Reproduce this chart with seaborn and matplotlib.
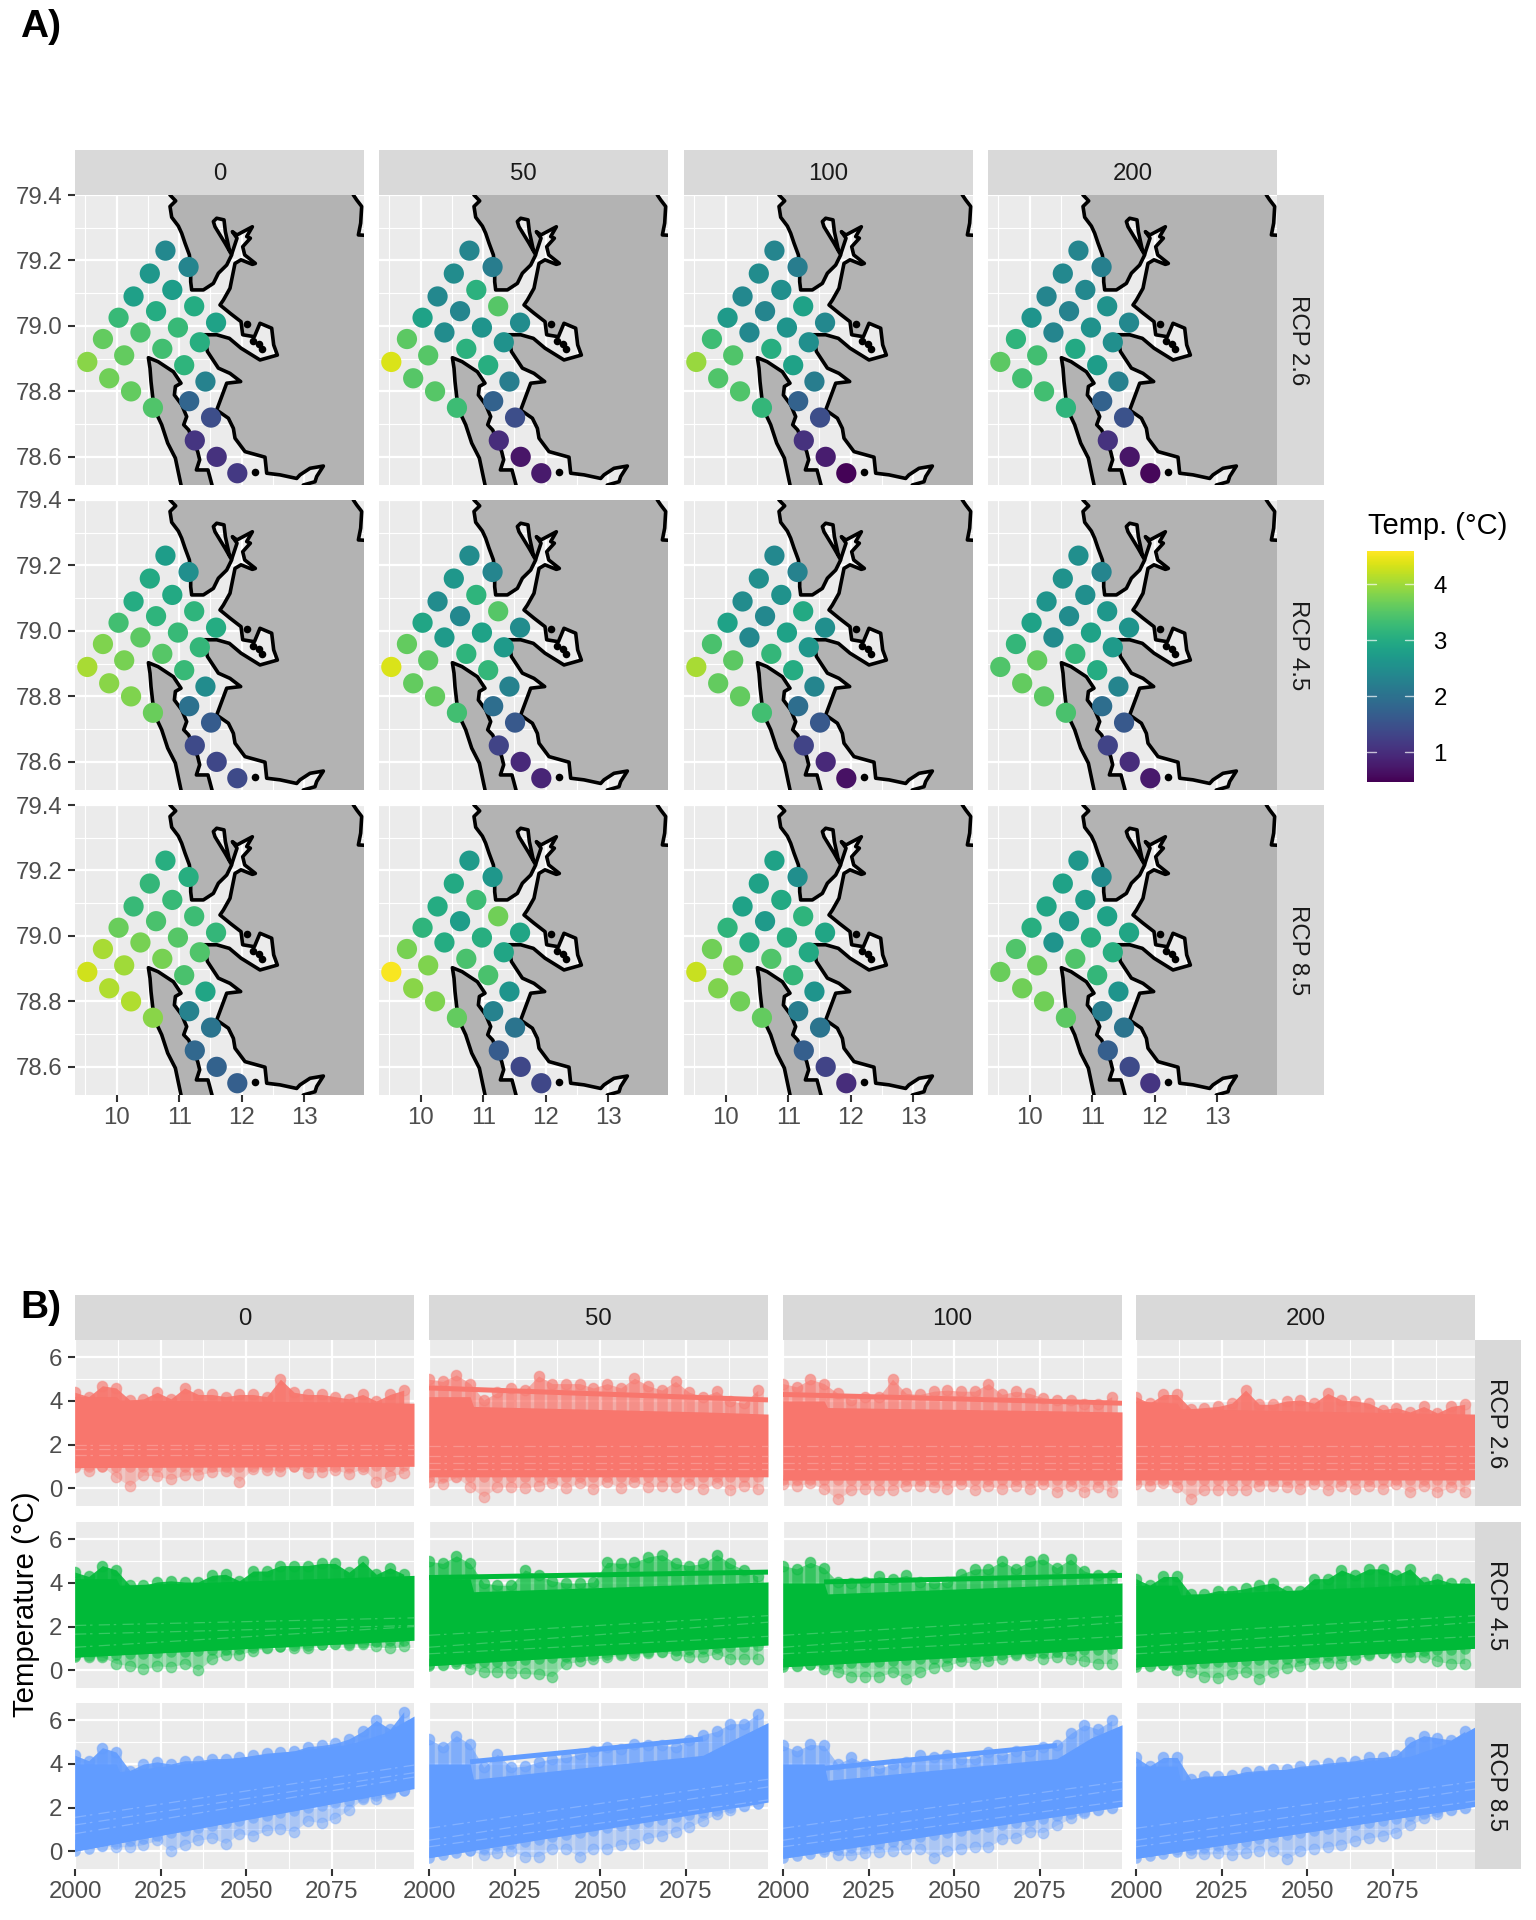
import matplotlib
matplotlib.use("Agg")
import matplotlib.pyplot as plt
from matplotlib.cm import ScalarMappable
from matplotlib.colors import Normalize
import seaborn as sns

# facets
depths = ["0", "50", "100", "200"]
rcps = ["RCP 2.6", "RCP 4.5", "RCP 8.5"]

# grid cells of the map panels
cell_lon = [10.78, 11.15, 10.53, 10.89, 10.27, 11.24, 10.63, 10.03, 11.59, 10.98, 10.38, 9.78, 11.33,
            10.73, 10.12, 9.53, 11.08, 11.42, 9.88, 10.23, 11.16, 10.58, 11.51, 11.25, 11.60, 11.93]
cell_lat = [79.23, 79.18, 79.16, 79.11, 79.09, 79.06, 79.045, 79.025, 79.01, 78.995, 78.98, 78.96, 78.95,
            78.93, 78.91, 78.89, 78.88, 78.83, 78.84, 78.80, 78.77, 78.75, 78.72, 78.65, 78.60, 78.55]

# temperature per cell
t26_0 = [2.4, 2.35, 2.65, 2.75, 2.8, 3.0, 3.0, 3.25, 2.85, 3.25, 3.4, 3.6, 3.05, 3.35, 3.6, 3.85, 3.15, 2.3, 3.7, 3.6, 1.8, 3.45, 1.45, 1.1, 1.05, 1.15]
t26_50 = [2.35, 2.2, 2.45, 3.1, 2.4, 3.5, 2.35, 2.85, 2.45, 2.6, 2.45, 3.55, 2.55, 3.1, 3.5, 4.35, 3.05, 2.2, 3.5, 3.5, 1.75, 3.3, 1.45, 1.0, 0.7, 0.75]
t26_100 = [2.35, 2.2, 2.45, 2.5, 2.4, 2.85, 2.35, 2.7, 2.4, 2.6, 2.4, 3.3, 2.5, 3.05, 3.45, 3.95, 2.85, 2.2, 3.45, 3.45, 1.75, 3.2, 1.45, 1.05, 0.8, 0.5]
t26_200 = [2.35, 2.25, 2.4, 2.4, 2.35, 2.55, 2.3, 2.6, 2.4, 2.55, 2.35, 3.15, 2.5, 2.95, 3.35, 3.55, 2.75, 2.25, 3.35, 3.35, 1.75, 3.15, 1.5, 1.05, 0.7, 0.55]
t45_0 = [2.75, 2.5, 2.95, 2.95, 3.0, 3.15, 3.15, 3.35, 3.0, 3.25, 3.55, 3.8, 3.2, 3.5, 3.75, 4.05, 3.25, 2.45, 3.85, 3.8, 2.0, 3.65, 1.65, 1.4, 1.35, 1.4]
t45_50 = [2.45, 2.35, 2.65, 3.15, 2.45, 3.5, 2.4, 2.9, 2.45, 2.85, 2.7, 3.6, 2.7, 3.15, 3.55, 4.35, 3.2, 2.3, 3.6, 3.6, 1.95, 3.35, 1.6, 1.3, 0.95, 0.9]
t45_100 = [2.4, 2.3, 2.5, 2.55, 2.45, 2.95, 2.4, 2.85, 2.5, 2.85, 2.4, 3.4, 2.65, 3.2, 3.55, 4.05, 3.0, 2.35, 3.6, 3.6, 1.95, 3.35, 1.6, 1.3, 0.95, 0.65]
t45_200 = [2.5, 2.35, 2.55, 2.5, 2.6, 2.65, 2.45, 2.85, 2.6, 2.85, 2.45, 3.2, 2.7, 3.2, 3.6, 3.45, 3.0, 2.35, 3.6, 3.55, 1.95, 3.4, 1.6, 1.3, 1.0, 0.75]
t85_0 = [3.05, 3.05, 3.2, 3.25, 3.25, 3.3, 3.4, 3.65, 3.2, 3.5, 3.75, 4.05, 3.45, 3.75, 4.0, 4.3, 3.4, 2.9, 4.1, 4.1, 2.3, 3.85, 2.05, 1.85, 1.75, 1.7]
t85_50 = [2.7, 2.65, 2.95, 3.3, 3.0, 3.7, 2.75, 3.15, 2.9, 3.05, 3.0, 3.75, 2.9, 3.4, 3.8, 4.55, 3.4, 2.6, 3.85, 3.8, 2.3, 3.6, 2.05, 1.65, 1.35, 1.35]
t85_100 = [2.85, 2.5, 2.85, 2.95, 2.85, 3.15, 2.7, 3.15, 2.9, 3.05, 3.0, 3.7, 2.95, 3.45, 3.75, 4.25, 3.2, 2.6, 3.8, 3.7, 2.2, 3.6, 2.05, 1.7, 1.3, 1.0]
t85_200 = [2.65, 2.45, 2.85, 2.75, 2.9, 2.85, 2.7, 3.05, 2.9, 3.05, 2.6, 3.45, 3.05, 3.45, 3.65, 3.65, 3.2, 2.6, 3.7, 3.7, 2.2, 3.55, 2.05, 1.7, 1.4, 1.1]
map_temps = [[t26_0, t26_50, t26_100, t26_200],
             [t45_0, t45_50, t45_100, t45_200],
             [t85_0, t85_50, t85_100, t85_200]]

# coastline outlines
east_lon = [10.747, 10.853, 10.944, 10.853, 10.880, 10.987, 11.040, 11.093, 11.163, 11.184, 11.184, 11.200, 11.387,
            11.547, 11.627, 11.760, 11.840, 11.733, 11.653, 11.573, 11.547, 11.600, 11.717, 11.739, 11.803, 11.845,
            11.925, 11.851, 11.925, 12.171, 12.080, 12.139, 12.016, 12.048, 12.219, 12.171, 11.989, 11.893, 11.840,
            11.813, 11.707, 11.653, 11.813, 11.989, 12.016, 12.203, 12.293, 12.480, 12.512, 12.571, 12.293, 11.989,
            11.803, 11.600, 11.387, 11.429, 11.451, 11.627, 11.813, 11.984, 11.760, 11.680, 11.600, 11.787, 11.867,
            11.893, 12.053, 12.373, 12.400, 12.613, 12.880, 12.933, 13.093, 13.307, 13.200, 13.173, 12.987, 12.827,
            14.533, 14.533, 13.867, 13.904, 13.920, 13.840, 13.787, 13.733]
east_lat = [79.466, 79.400, 79.382, 79.365, 79.332, 79.305, 79.283, 79.253, 79.217, 79.176, 79.135, 79.110, 79.110,
            79.130, 79.161, 79.186, 79.217, 79.253, 79.278, 79.303, 79.319, 79.329, 79.324, 79.288, 79.232, 79.222,
            79.268, 79.288, 79.278, 79.303, 79.273, 79.268, 79.242, 79.217, 79.191, 79.188, 79.202, 79.191, 79.141,
            79.115, 79.079, 79.064, 79.039, 79.013, 78.973, 78.967, 79.008, 78.993, 78.942, 78.911, 78.896, 78.932,
            78.962, 78.973, 78.973, 78.947, 78.922, 78.871, 78.855, 78.830, 78.825, 78.784, 78.743, 78.718, 78.687,
            78.657, 78.616, 78.599, 78.550, 78.545, 78.534, 78.545, 78.565, 78.572, 78.540, 78.524, 78.514, 78.448,
            78.448, 79.271, 79.278, 79.314, 79.365, 79.385, 79.400, 79.466]
west_lon = [10.507, 10.661, 10.907, 11.029, 10.939, 10.923, 11.040, 11.120, 11.072, 11.152, 11.296, 11.328, 11.275,
            11.461, 11.525, 11.600, 11.067, 11.029, 10.939, 10.816, 10.720, 10.597, 10.549, 10.533]
west_lat = [78.903, 78.891, 78.860, 78.825, 78.815, 78.789, 78.759, 78.723, 78.698, 78.682, 78.616, 78.591, 78.560,
            78.560, 78.514, 78.448, 78.448, 78.514, 78.596, 78.642, 78.698, 78.748, 78.830, 78.871]
islet_lon = [12.187, 12.283, 12.320, 12.08, 12.213]
islet_lat = [78.954, 78.945, 78.929, 79.006, 78.555]

# panel B: outer edge of the point cloud every four years
env_years = [2000, 2004, 2008, 2012, 2016, 2020, 2024, 2028, 2032, 2036, 2040, 2044, 2048,
             2052, 2056, 2060, 2064, 2068, 2072, 2076, 2080, 2084, 2088, 2092, 2096]

hi_26_0 = [4.4, 4.2, 4.7, 4.6, 4.05, 4.1, 4.4, 4.1, 4.6, 4.3, 4.3, 4.2, 4.3, 4.3, 4.2, 5.0, 4.4, 4.3, 4.3, 4.2, 4.1, 4.3, 4.0, 4.3, 4.5]
lo_26_0 = [0.95, 0.8, 1.0, 0.5, 0.1, 0.6, 0.55, 0.4, 0.6, 0.6, 0.75, 0.8, 0.3, 0.9, 0.85, 0.8, 1.0, 0.7, 0.75, 0.85, 0.65, 0.9, 0.3, 0.55, 0.7]
hi_26_50 = [5.0, 4.9, 5.2, 4.8, 4.05, 4.4, 4.6, 4.5, 5.15, 4.8, 4.8, 4.8, 4.6, 4.8, 4.6, 5.05, 4.7, 4.5, 4.9, 4.4, 4.2, 4.45, 4.0, 3.9, 4.5]
lo_26_50 = [0.3, 0.2, 0.5, 0.05, -0.4, 0.05, 0.05, 0.0, 0.1, 0.25, 0.0, 0.25, -0.05, 0.3, 0.0, 0.3, 0.05, 0.1, 0.05, 0.2, -0.05, 0.25, -0.1, 0.1, -0.05]
hi_26_100 = [4.8, 4.65, 5.0, 4.8, 4.35, 4.05, 4.2, 4.2, 5.0, 4.35, 4.3, 4.45, 4.5, 4.45, 4.45, 4.8, 4.3, 4.45, 4.35, 4.15, 4.05, 4.05, 3.85, 3.85, 4.2]
lo_26_100 = [0.2, 0.1, 0.25, -0.05, -0.5, -0.1, -0.05, -0.1, -0.1, 0.1, 0.1, 0.05, -0.05, 0.2, -0.1, 0.1, -0.05, 0.1, -0.05, 0.2, -0.2, 0.1, -0.2, 0.05, -0.2]
hi_26_200 = [4.2, 3.9, 4.3, 4.3, 3.65, 3.7, 3.75, 3.9, 4.5, 3.85, 3.85, 4.0, 4.05, 3.9, 4.35, 4.05, 4.0, 3.9, 3.6, 3.7, 3.5, 3.75, 3.45, 3.75, 3.85]
lo_26_200 = [0.2, 0.1, 0.25, 0.03, -0.5, -0.1, -0.1, -0.1, -0.1, 0.1, 0.1, 0.05, -0.05, 0.2, -0.1, 0.1, -0.05, 0.1, -0.05, 0.2, -0.2, 0.1, -0.2, 0.05, -0.2]

hi_45_0 = [4.5, 4.3, 4.8, 4.6, 3.9, 3.9, 4.05, 4.1, 4.05, 4.05, 4.35, 4.4, 4.1, 4.55, 4.55, 4.8, 4.8, 4.8, 4.9, 4.9, 4.5, 5.0, 4.4, 4.7, 4.4]
lo_45_0 = [0.7, 0.6, 0.6, 0.3, 0.2, 0.05, 0.2, 0.15, 0.3, 0.0, 0.5, 0.7, 0.7, 0.9, 1.0, 1.1, 1.0, 1.0, 1.2, 1.2, 1.15, 1.2, 1.1, 1.0, 1.1]
hi_45_50 = [5.0, 4.9, 5.25, 4.9, 4.0, 3.9, 3.9, 4.6, 4.35, 4.1, 4.0, 4.0, 4.05, 4.95, 4.9, 4.95, 5.2, 5.3, 4.9, 4.8, 4.9, 5.3, 4.9, 4.6, 4.3]
lo_45_50 = [0.3, 0.25, 0.4, 0.05, -0.1, -0.1, -0.15, -0.15, -0.2, -0.3, 0.3, 0.4, 0.5, 0.6, 0.7, 0.7, 0.8, 0.85, 0.7, 0.6, 0.6, 0.75, 0.5, 0.5, 0.5]
hi_45_100 = [4.8, 4.65, 4.95, 4.7, 4.05, 4.0, 4.05, 4.3, 4.2, 4.35, 4.05, 4.0, 4.05, 4.4, 4.65, 4.65, 5.0, 4.65, 5.0, 5.1, 4.7, 5.1, 4.55, 4.35, 4.35]
lo_45_100 = [0.3, 0.2, 0.3, 0.05, -0.1, -0.3, -0.3, -0.3, -0.1, -0.4, -0.1, 0.1, 0.2, 0.4, 0.3, 0.4, 0.5, 0.7, 0.7, 0.5, 0.6, 0.5, 0.4, 0.3, 0.3]
hi_45_200 = [4.2, 3.9, 4.3, 4.3, 3.5, 3.5, 3.65, 3.65, 3.75, 3.9, 4.0, 3.65, 3.65, 4.2, 4.2, 4.6, 4.35, 4.65, 4.65, 4.35, 4.65, 4.05, 4.2, 4.0, 4.0]
lo_45_200 = [0.3, 0.2, 0.3, 0.0, -0.1, -0.3, -0.35, -0.2, -0.1, -0.4, -0.1, 0.1, 0.2, 0.3, 0.35, 0.3, 0.5, 0.7, 0.8, 0.6, 0.6, 0.6, 0.4, 0.3, 0.3]

hi_85_0 = [4.4, 4.15, 4.75, 4.55, 3.7, 4.0, 4.1, 4.0, 4.15, 4.15, 4.25, 4.25, 4.3, 4.4, 4.5, 4.55, 4.6, 4.8, 4.85, 4.95, 5.15, 5.5, 6.0, 5.6, 6.4]
lo_85_0 = [0.3, 0.4, 0.25, 0.2, 0.2, 0.3, 0.5, 0.0, 0.3, 0.5, 0.6, 0.35, 0.8, 0.7, 0.95, 1.0, 0.9, 1.4, 1.3, 1.5, 1.9, 2.4, 2.4, 2.6, 2.8]
hi_85_50 = [5.15, 4.8, 5.3, 4.9, 3.85, 4.45, 3.85, 3.9, 4.1, 4.25, 4.3, 4.45, 4.6, 4.8, 4.7, 4.9, 4.85, 4.85, 4.8, 5.1, 5.35, 5.5, 5.85, 5.85, 6.3]
lo_85_50 = [0.0, 0.1, 0.15, 0.05, -0.2, -0.1, 0.0, -0.25, -0.25, 0.1, 0.1, -0.25, 0.1, 0.1, 0.3, 0.35, 0.6, 0.7, 0.9, 1.1, 1.4, 1.7, 1.9, 2.05, 2.2]
hi_85_100 = [4.85, 4.6, 4.9, 4.85, 4.0, 4.3, 4.0, 3.8, 4.0, 4.1, 4.4, 4.3, 4.4, 4.25, 4.25, 4.55, 4.4, 4.6, 4.6, 4.8, 4.85, 5.4, 5.8, 5.6, 6.0]
lo_85_100 = [0.0, 0.05, 0.1, 0.1, -0.2, -0.2, -0.1, -0.05, 0.0, 0.1, 0.1, -0.3, 0.0, 0.1, 0.2, 0.2, 0.55, 0.6, 0.9, 0.85, 1.2, 1.5, 1.75, 1.9, 2.0]
hi_85_200 = [4.3, 3.9, 4.3, 4.3, 3.3, 3.45, 3.45, 3.5, 3.65, 3.7, 3.75, 3.75, 3.9, 3.95, 4.05, 4.1, 4.15, 4.3, 4.3, 4.4, 5.0, 5.3, 5.2, 5.1, 5.5]
lo_85_200 = [0.0, 0.0, 0.1, 0.1, -0.1, -0.15, -0.1, -0.2, -0.1, 0.0, 0.0, -0.35, 0.0, 0.1, 0.2, 0.3, 0.45, 0.6, 0.7, 0.85, 1.2, 1.5, 1.7, 1.9, 2.0]

# solid block of regression lines
band_years = [2000, 2012, 2013, 2080, 2090, 2099]
top_26_0 = [4.2, 4.2, 4.05, 3.95, 3.92, 3.9]
top_26_50 = [4.2, 4.2, 3.75, 3.5, 3.45, 3.4]
top_26_100 = [4.0, 4.0, 3.7, 3.55, 3.52, 3.5]
top_26_200 = [4.0, 3.9, 3.65, 3.45, 3.42, 3.4]
top_45_0 = [4.2, 4.2, 3.9, 4.25, 4.3, 4.35]
top_45_50 = [4.2, 4.2, 3.6, 3.95, 4.0, 4.05]
top_45_100 = [4.0, 4.0, 3.5, 3.9, 3.95, 4.0]
top_45_200 = [3.9, 3.9, 3.45, 3.9, 3.95, 4.0]
top_85_0 = [4.0, 4.0, 3.65, 4.9, 5.4, 6.2]
top_85_50 = [4.0, 4.0, 3.3, 4.4, 5.2, 5.9]
top_85_100 = [4.0, 4.0, 3.25, 4.25, 5.2, 5.8]
top_85_200 = [3.9, 3.9, 3.25, 4.35, 4.9, 5.7]
bot_26_0 = [0.95, 1.0]
bot_26_50 = [0.52, 0.52]
bot_26_100 = [0.37, 0.37]
bot_26_200 = [0.38, 0.38]
bot_45_0 = [0.6, 1.37]
bot_45_50 = [0.2, 1.15]
bot_45_100 = [0.15, 1.0]
bot_45_200 = [0.15, 1.0]
bot_85_0 = [0.0, 2.87]
bot_85_50 = [-0.3, 2.25]
bot_85_100 = [-0.33, 2.05]
bot_85_200 = [-0.33, 2.05]

# warmest cell's line, sits apart from the block: years, temps
warm_26_50 = ([2000, 2099], [4.6, 4.05])
warm_26_100 = ([2000, 2099], [4.3, 3.9])
warm_45_50 = ([2000, 2099], [4.25, 4.5])
warm_45_100 = ([2012, 2099], [4.05, 4.35])
warm_85_50 = ([2012, 2080], [4.1, 5.15])
warm_85_100 = ([2012, 2080], [3.8, 4.85])

# thin gaps between lines: value in 2000, value in 2099
gap_26_0 = ([2.0, 1.78, 1.5], [2.0, 1.78, 1.5])
gap_26_x = ([1.93, 1.48, 1.17, 0.87], [1.93, 1.48, 1.17, 0.87])
gap_45_0 = ([2.05, 1.65, 1.05], [2.4, 2.05, 2.0])
gap_45_x = ([1.6, 1.05, 0.75], [2.5, 2.2, 1.55])
gap_85_0 = ([1.55, 1.2, 0.8], [3.95, 3.6, 3.4])
gap_85_50 = ([1.05, 0.5, 0.2], [3.3, 2.95, 2.35])
gap_85_x = ([1.05, 0.5, 0.2], [3.2, 2.85, 2.3])

hi_vals = [[hi_26_0, hi_26_50, hi_26_100, hi_26_200], [hi_45_0, hi_45_50, hi_45_100, hi_45_200], [hi_85_0, hi_85_50, hi_85_100, hi_85_200]]
lo_vals = [[lo_26_0, lo_26_50, lo_26_100, lo_26_200], [lo_45_0, lo_45_50, lo_45_100, lo_45_200], [lo_85_0, lo_85_50, lo_85_100, lo_85_200]]
top_vals = [[top_26_0, top_26_50, top_26_100, top_26_200], [top_45_0, top_45_50, top_45_100, top_45_200], [top_85_0, top_85_50, top_85_100, top_85_200]]
bot_vals = [[bot_26_0, bot_26_50, bot_26_100, bot_26_200], [bot_45_0, bot_45_50, bot_45_100, bot_45_200], [bot_85_0, bot_85_50, bot_85_100, bot_85_200]]
warm_vals = [[None, warm_26_50, warm_26_100, None], [None, warm_45_50, warm_45_100, None], [None, warm_85_50, warm_85_100, None]]
gap_vals = [[gap_26_0, gap_26_x, gap_26_x, gap_26_x], [gap_45_0, gap_45_x, gap_45_x, gap_45_x], [gap_85_0, gap_85_50, gap_85_x, gap_85_x]]
rcp_colors = ["#F8766D", "#00BA38", "#619CFF"]

W, H = 1536, 1920
sns.set_theme(style="darkgrid")
plt.rcParams["font.family"] = ["Liberation Sans", "DejaVu Sans"]
TEXT = 17.3
norm = Normalize(0.47, 4.59)

fig = plt.figure(figsize=(W / 100, H / 100), dpi=100, facecolor="white")


def box(left, top, right, bottom, **kw):
    return fig.add_axes([left / W, 1 - bottom / H, (right - left) / W, (bottom - top) / H], **kw)


def strip(left, top, right, bottom, label, rotation=0):
    ax = box(left, top, right, bottom, facecolor="#D9D9D9")
    ax.set_xticks([])
    ax.set_yticks([])
    ax.grid(False)
    for s in ax.spines.values():
        s.set_visible(False)
    pos = (0.45, 0.5) if rotation else (0.5, 0.46)
    ax.text(pos[0], pos[1], label, transform=ax.transAxes, ha="center", va="center",
            rotation=rotation, fontsize=TEXT, color="#1A1A1A")


def style_panel(ax, first_col, last_row):
    ax.set_facecolor("#EBEBEB")
    ax.set_axisbelow(True)
    for s in ax.spines.values():
        s.set_visible(False)
    ax.grid(True, which="major", color="white", lw=1.6)
    ax.grid(True, which="minor", color="white", lw=0.8)
    ax.tick_params(which="minor", length=0)
    ax.tick_params(axis="x", which="major", length=5, width=1.5, color="#333333", pad=4,
                   labelsize=TEXT, labelcolor="#4D4D4D", bottom=last_row, labelbottom=last_row)
    ax.tick_params(axis="y", which="major", length=5, width=1.5, color="#333333", pad=4,
                   labelsize=TEXT, labelcolor="#4D4D4D", left=first_col, labelleft=first_col)
    ax.set_xlabel("")
    ax.set_ylabel("")


# A) maps
map_left = [75, 379, 684, 988]
map_top = [195, 500, 805]
map_w, map_h = 289, 290
for i, rcp in enumerate(rcps):
    for j, dep in enumerate(depths):
        ax = box(map_left[j], map_top[i], map_left[j] + map_w, map_top[i] + map_h)
        ax.fill(east_lon, east_lat, facecolor="#B3B3B3", edgecolor="black", lw=2.6, zorder=2, joinstyle="round")
        ax.fill(west_lon, west_lat, facecolor="#B3B3B3", edgecolor="black", lw=2.6, zorder=2, joinstyle="round")
        sns.scatterplot(x=islet_lon, y=islet_lat, color="black", s=30, linewidth=0, zorder=2.5, ax=ax)
        sns.scatterplot(x=cell_lon, y=cell_lat, hue=map_temps[i][j], hue_norm=norm, palette="viridis",
                        s=212, linewidth=0, legend=False, zorder=3, ax=ax)
        ax.set_xlim(9.333, 13.957)
        ax.set_ylim(78.514, 79.4)
        ax.set_xticks([10, 11, 12, 13])
        ax.set_xticks([9.5, 10.5, 11.5, 12.5, 13.5], minor=True)
        ax.set_yticks([78.6, 78.8, 79.0, 79.2, 79.4])
        ax.set_yticklabels(["78.6", "78.8", "79.0", "79.2", "79.4"])
        ax.set_yticks([78.7, 78.9, 79.1, 79.3], minor=True)
        style_panel(ax, j == 0, i == 2)
    strip(map_left[3] + map_w, map_top[i], 1324, map_top[i] + map_h, rcp, rotation=-90)
for j, dep in enumerate(depths):
    strip(map_left[j], 150, map_left[j] + map_w, 195, dep)

# colour bar
cax = box(1367, 551, 1414, 782)
cb = fig.colorbar(ScalarMappable(norm=norm, cmap="viridis"), cax=cax)
cb.outline.set_visible(False)
cb.set_ticks([1, 2, 3, 4])
cax.tick_params(length=0, labelsize=TEXT, labelcolor="black", pad=14)
for v in [1, 2, 3, 4]:
    cax.plot([0, 0.2], [v, v], color="white", alpha=0.7, lw=1, transform=cax.get_yaxis_transform())
    cax.plot([0.8, 1], [v, v], color="white", alpha=0.7, lw=1, transform=cax.get_yaxis_transform())
fig.text(1368 / W, 1 - 526 / H, "Temp. (°C)", fontsize=21, color="black", va="center")

# B) time series
ts_left = [75, 429, 783, 1136]
ts_top = [1340, 1522, 1703]
ts_w, ts_h = 339, 166
for i, rcp in enumerate(rcps):
    col = rcp_colors[i]
    for j, dep in enumerate(depths):
        ax = box(ts_left[j], ts_top[i], ts_left[j] + ts_w, ts_top[i] + ts_h)
        hi, lo = hi_vals[i][j], lo_vals[i][j]
        b0, b1 = bot_vals[i][j]
        # lower edge of the line block at a given year
        env_base = [b0 + (b1 - b0) * (y - 2000) / 99 for y in env_years]
        band_base = [b0 + (b1 - b0) * (y - 2000) / 99 for y in band_years]
        # upper cloud is dense, except where the warm line leaves a pale gap
        up_alpha = 0.55 if warm_vals[i][j] is not None else 0.9
        ax.fill_between(env_years, env_base, hi, color=col, alpha=up_alpha, lw=0, zorder=2)
        ax.vlines(env_years, env_base, hi, color=col, alpha=0.5, lw=7.6, capstyle="round", zorder=2.2)
        # lower cloud stays pale
        ax.fill_between(env_years, lo, env_base, color=col, alpha=0.3, lw=0, zorder=2)
        ax.vlines(env_years, lo, env_base, color=col, alpha=0.22, lw=7.6, capstyle="round", zorder=2.2)
        sns.scatterplot(x=env_years, y=hi, color=col, alpha=0.3, s=58, edgecolor=col, linewidth=1, zorder=2.5, ax=ax)
        sns.scatterplot(x=env_years, y=lo, color=col, alpha=0.3, s=58, edgecolor=col, linewidth=1, zorder=2.5, ax=ax)
        ax.fill_between(band_years, band_base, top_vals[i][j], color=col, lw=0, zorder=3)
        if warm_vals[i][j] is not None:
            ax.plot(warm_vals[i][j][0], warm_vals[i][j][1], color=col, lw=3.6, solid_capstyle="butt", zorder=3)
        for g0, g1 in zip(*gap_vals[i][j]):
            ax.plot([2000, 2099], [g0, g1], color="white", alpha=0.22, lw=0.9, ls=(0, (9, 3, 2, 5)), zorder=3.5)
        ax.set_xlim(2000, 2099)
        ax.set_ylim(-0.82, 6.8)
        ax.set_xticks([2000, 2025, 2050, 2075])
        ax.set_xticks([2012.5, 2037.5, 2062.5, 2087.5], minor=True)
        ax.set_yticks([0, 2, 4, 6])
        ax.set_yticks([1, 3, 5], minor=True)
        style_panel(ax, j == 0, i == 2)
    strip(ts_left[3] + ts_w, ts_top[i], 1521, ts_top[i] + ts_h, rcp, rotation=-90)
for j, dep in enumerate(depths):
    strip(ts_left[j], 1295, ts_left[j] + ts_w, 1340, dep)

fig.text(26 / W, 1 - 1604 / H, "Temperature (°C)", fontsize=21.2, color="black", rotation=90, ha="center", va="center")
fig.text(20 / W, 1 - 27 / H, "A)", fontsize=28, fontweight="bold", color="black", va="center")
fig.text(20 / W, 1 - 1308 / H, "B)", fontsize=28, fontweight="bold", color="black", va="center")

fig.savefig("out.png", dpi=100)
